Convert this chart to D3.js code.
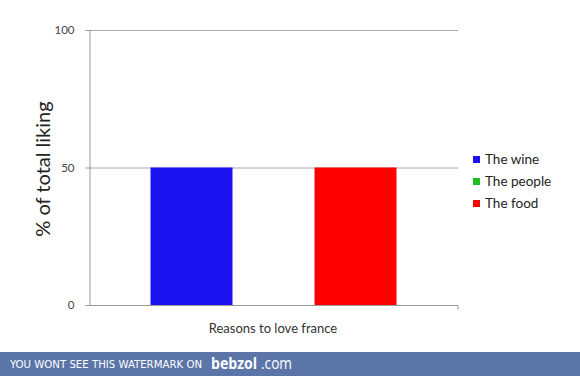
<!DOCTYPE html>
<html><head><meta charset="utf-8">
<script src="https://cdn.jsdelivr.net/npm/d3@7"></script>
<style>body{margin:0;background:#fff}svg{display:block}</style>
</head><body>
<svg id="c" width="580" height="376"></svg>
<script>
const categories = ["Reasons to love france"];
const seriesNames = ["The wine", "The people", "The food"];
const seriesValues = [50, 0, 50];
const seriesColors = ["#1c12f0", "#22bb22", "#ff0000"];
const yTicks = [0, 50, 100];

const svg = d3.select("#c");
const m = {l: 89, r: 458, t: 30, b: 305};
const font = "Lato, 'Liberation Sans', sans-serif";

const y = d3.scaleLinear().domain([0, 100]).range([m.b, m.t]);
const x0 = d3.scaleBand().domain(categories).range([m.l, m.r]).paddingOuter(0.25).paddingInner(0);
const x1 = d3.scaleBand().domain(seriesNames).range([0, x0.bandwidth()]).padding(0);

// gridlines
svg.append("g").selectAll("line").data(yTicks.filter(d => d > 0)).join("line")
  .attr("x1", m.l).attr("x2", m.r).attr("y1", d => y(d) + 0.5).attr("y2", d => y(d) + 0.5)
  .attr("stroke", "#a8a8a8").attr("stroke-width", 1);

// bars
const g = svg.append("g");
categories.forEach(cat => {
  seriesNames.forEach((s, i) => {
    g.append("rect")
      .attr("x", x0(cat) + x1(s)).attr("width", x1.bandwidth())
      .attr("y", y(seriesValues[i])).attr("height", y(0) - y(seriesValues[i]))
      .attr("fill", seriesColors[i]);
  });
});

// y axis
const ya = svg.append("g").attr("transform", `translate(${m.l + 0.5},0)`)
  .call(d3.axisLeft(y).tickValues(yTicks).tickSize(4).tickPadding(11));
ya.select(".domain").attr("stroke", "#999");
ya.selectAll(".tick line").attr("stroke", "#999");
ya.selectAll("text").attr("font-family", font).attr("font-size", 11.5).attr("fill", "#444");

// x axis
const xa = svg.append("g").attr("transform", `translate(0,${m.b + 0.5})`)
  .call(d3.axisBottom(x0).tickSize(0).tickFormat(""));
xa.select(".domain").attr("stroke", "#999").attr("d", `M${m.l},0H${m.r}V4`);
xa.selectAll(".tick").remove();

// axis titles
svg.append("text").attr("transform", `translate(50,169) rotate(-90)`)
  .attr("text-anchor", "middle").attr("font-family", font).attr("font-size", 20)
  .attr("fill", "#222").text("% of total liking");
svg.append("text").attr("x", 273).attr("y", 333).attr("text-anchor", "middle")
  .attr("font-family", font).attr("font-size", 13).attr("fill", "#333").text(categories[0]);

// legend
const lg = svg.append("g");
seriesNames.forEach((s, i) => {
  const cy = 159.5 + i * 22;
  lg.append("rect").attr("x", 473).attr("y", cy - 3.5).attr("width", 7).attr("height", 7).attr("fill", seriesColors[i]);
  lg.append("text").attr("x", 485).attr("y", cy + 4.5).attr("font-family", font).attr("font-size", 13.5)
    .attr("fill", "#222").text(s);
});

// watermark band
svg.append("rect").attr("x", 0).attr("y", 352).attr("width", 580).attr("height", 24).attr("fill", "#5b75a9");
svg.append("text").attr("x", 10).attr("y", 367.5).attr("font-family", "'DejaVu Sans Condensed','DejaVu Sans',sans-serif")
  .attr("font-size", 10.5).attr("fill", "#fff").attr("textLength", 192).attr("lengthAdjust", "spacingAndGlyphs")
  .text("YOU WONT SEE THIS WATERMARK ON");
svg.append("text").attr("x", 211).attr("y", 369).attr("font-family", "'Open Sans',sans-serif").attr("font-weight", "bold")
  .attr("font-size", 16).attr("fill", "#fff").attr("textLength", 46).attr("lengthAdjust", "spacingAndGlyphs").text("bebzol");
svg.append("text").attr("x", 261).attr("y", 369).attr("font-family", "'Open Sans',sans-serif")
  .attr("font-size", 16).attr("fill", "#fff").attr("textLength", 31).attr("lengthAdjust", "spacingAndGlyphs").text(".com");
</script>
</body></html>
